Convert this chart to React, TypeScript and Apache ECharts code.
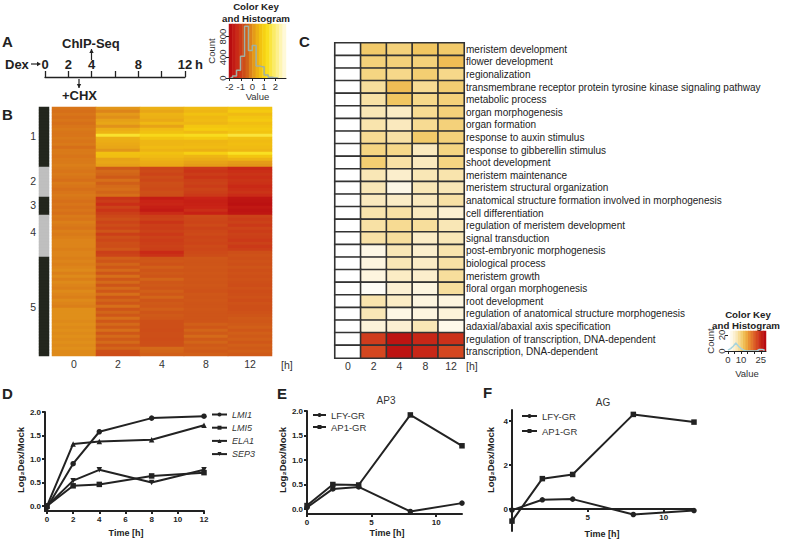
import React, { useEffect, useRef } from "react";
import * as echarts from "echarts";

const FONT = "Liberation Sans, Arial, sans-serif";
const DARK = "#222";

// Panel A
const timelineTicks = [0, 2, 4, 8, 12];

// Colour keys
const scaleB = ["#b80d10", "#c92316", "#cb3f18", "#cf5a18", "#e08f1a", "#ecb015", "#f5cc0f", "#f9e022", "#fbea60", "#fdf29c", "#fff9d8"];
const scaleC = ["#ffffff", "#fdf6e2", "#fae9bd", "#f6d98c", "#f1c55e", "#eca83f", "#e68530", "#dd6327", "#d2421f", "#c62516", "#b80b10"];
const sidebarColors = ["#23261d", "#bfbfbf"];
const keyBValues = [-2, -1.7, -1.4, -1.1, -0.8, -0.5, -0.2, 0.1, 0.4, 0.7, 1, 1.3, 1.6, 1.9, 2.2, 2.5, 2.8];
const histBX = [-1.9, -1.55, -1.2, -0.85, -0.5, -0.17, 0.16, 0.5, 0.85, 1.2, 1.55, 1.9, 2.25];
const histBY = [5, 40, 150, 420, 1000, 530, 630, 230, 220, 60, 15, 5, 0];
const keyCValues = [0, 2, 4, 6, 8, 10, 12, 14, 16, 18, 20, 22, 24, 26, 28];
const histCX = [0, 2, 4, 6, 8, 10, 12, 14, 22, 24, 26, 28];
const histCY = [1, 3, 6, 10, 6, 3, 1, 0, 0, 2, 2, 1];

// Panel B
const timeCats = ["0", "2", "4", "8", "12"];
const clusterSizes = [20, 10, 6, 14, 33];
const clusterLabels: Record<number, string> = { 9: "1", 24: "2", 32: "3", 41: "4", 66: "5" };
const matrixB = [
  [-0.25, 0.1, 0.5, 0.7, 0.85],
  [-0.3, -0.1, 0.35, 0.6, 0.95],
  [-0.25, 0.15, 0.55, 0.8, 0.7],
  [-0.3, 0.0, 0.5, 0.65, 0.85],
  [-0.25, 0.25, 0.4, 0.7, 0.95],
  [-0.3, 0.35, 0.65, 0.6, 0.75],
  [-0.25, 0.05, 0.3, 0.9, 0.85],
  [-0.2, 0.45, 0.7, 1.0, 0.95],
  [-0.25, 0.55, 0.8, 0.7, 0.85],
  [-0.25, 1.6, 1.3, 1.4, 1.7],
  [-0.2, 0.5, 0.85, 0.95, 0.8],
  [-0.25, 0.45, 0.6, 0.6, 0.7],
  [-0.2, 0.4, 0.6, 0.65, 0.75],
  [-0.3, 0.35, 0.7, 0.7, 0.7],
  [-0.2, 0.1, 0.55, 0.5, 0.6],
  [-0.2, 0.8, 0.8, 1.1, 1.5],
  [-0.25, 0.75, 0.7, 0.6, 0.9],
  [-0.2, 0.3, 0.55, 0.45, 0.55],
  [-0.2, 0.35, 0.45, 0.3, 0.2],
  [-0.15, 0.25, 0.4, 0.2, 0.1],
  [-0.2, -0.5, -0.85, -1.1, -1.4],
  [-0.25, -0.35, -0.8, -1.2, -1.3],
  [-0.2, -0.4, -0.9, -1.05, -1.2],
  [-0.25, -0.5, -0.75, -1.2, -1.3],
  [-0.3, -0.3, -0.85, -1.0, -1.2],
  [-0.2, -0.45, -0.7, -0.95, -1.25],
  [-0.25, -0.35, -0.75, -1.05, -1.4],
  [-0.3, -0.3, -0.8, -0.9, -1.3],
  [-0.25, -0.4, -0.7, -1.0, -1.2],
  [-0.2, -0.3, -0.75, -1.1, -1.35],
  [-0.25, -1.2, -1.65, -1.5, -1.8],
  [-0.3, -1.05, -1.5, -1.6, -1.85],
  [-0.25, -1.3, -1.45, -1.55, -1.9],
  [-0.3, -0.95, -1.6, -1.5, -1.75],
  [-0.25, -1.2, -1.7, -1.3, -1.85],
  [-0.3, -1.0, -1.35, -1.55, -1.8],
  [-0.2, -0.85, -1.0, -0.8, -0.95],
  [-0.25, -0.7, -0.95, -0.85, -1.05],
  [-0.15, -0.9, -1.2, -0.9, -0.95],
  [-0.2, -0.75, -1.0, -0.8, -1.1],
  [-0.25, -0.9, -1.05, -0.95, -0.9],
  [-0.15, -0.6, -0.95, -0.85, -1.05],
  [-0.2, -1.0, -1.1, -0.8, -0.95],
  [-0.15, -0.7, -0.95, -0.9, -1.0],
  [-0.1, -0.85, -1.05, -0.85, -1.1],
  [-0.1, -0.7, -1.0, -0.9, -0.95],
  [-0.1, -0.75, -0.95, -0.8, -1.1],
  [-0.15, -0.55, -1.0, -0.85, -1.0],
  [-0.1, -1.0, -1.4, -0.8, -0.7],
  [-0.1, -0.9, -1.25, -0.75, -0.65],
  [-0.15, -0.45, -0.6, -0.55, -0.7],
  [-0.1, -0.6, -0.55, -0.6, -0.65],
  [-0.15, -0.4, -0.65, -0.6, -0.7],
  [-0.1, -0.55, -0.45, -0.55, -0.6],
  [-0.05, -0.35, -0.6, -0.6, -0.7],
  [-0.15, -0.6, -0.5, -0.55, -0.65],
  [-0.05, -0.3, -0.6, -0.6, -0.7],
  [-0.15, -0.55, -0.4, -0.55, -0.65],
  [-0.05, -0.35, -0.55, -0.6, -0.7],
  [-0.1, -0.6, -0.5, -0.55, -0.75],
  [-0.15, -0.35, -0.6, -0.6, -0.65],
  [-0.05, -0.55, -0.45, -0.65, -0.75],
  [-0.1, -0.3, -0.55, -0.55, -0.7],
  [-0.15, -0.6, -0.4, -0.6, -0.65],
  [-0.05, -0.4, -0.6, -0.55, -0.75],
  [-0.1, -0.55, -0.5, -0.6, -0.65],
  [-0.15, -0.3, -0.55, -0.6, -0.7],
  [0.0, -0.6, -0.45, -0.55, -0.7],
  [0.0, -0.4, -0.6, -0.6, -0.65],
  [0.0, -0.55, -0.5, -0.6, -0.6],
  [0.0, -0.3, -0.55, -0.6, -0.5],
  [-0.05, -0.55, -0.7, -0.6, -0.55],
  [0.0, -0.35, -0.7, -0.45, -0.5],
  [-0.05, -0.5, -0.7, -0.55, -0.45],
  [0.0, -0.3, -0.75, -0.4, -0.55],
  [-0.05, -0.55, -0.7, -0.5, -0.45],
  [0.0, -0.35, -0.7, -0.35, -0.5],
  [-0.05, -0.5, -0.75, -0.5, -0.45],
  [0.0, -0.35, -0.7, -0.4, -0.55],
  [-0.05, -0.55, -0.7, -0.5, -0.45],
  [0.0, -0.4, -0.35, -0.45, -0.5],
  [-0.05, -0.7, -0.4, -0.5, -0.45],
  [-0.05, -0.75, -0.45, -0.45, -0.5],
];

// Panel C
const goTerms = [
  "meristem development",
  "flower development",
  "regionalization",
  "transmembrane receptor protein tyrosine kinase signaling pathway",
  "metabolic process",
  "organ morphogenesis",
  "organ formation",
  "response to auxin stimulus",
  "response to gibberellin stimulus",
  "shoot development",
  "meristem maintenance",
  "meristem structural organization",
  "anatomical structure formation involved in morphogenesis",
  "cell differentiation",
  "regulation of meristem development",
  "signal transduction",
  "post-embryonic morphogenesis",
  "biological process",
  "meristem growth",
  "floral organ morphogenesis",
  "root development",
  "regulation of anatomical structure morphogenesis",
  "adaxial/abaxial axis specification",
  "regulation of transcription, DNA-dependent",
  "transcription, DNA-dependent",
];
const matrixC = [
  [0, 10.5, 9.5, 11, 10.5],
  [0, 9.5, 9.5, 9.5, 12],
  [0, 9, 8.5, 10, 8.5],
  [0, 7.5, 12, 8, 10],
  [0, 7, 11, 8.5, 9.5],
  [0, 6, 5, 8, 9.5],
  [0, 6.5, 5.5, 8, 9.5],
  [0, 8, 7, 10.5, 9.5],
  [0, 9, 8.5, 5.5, 9],
  [0, 10, 7, 5.5, 9],
  [0, 6, 4.5, 6, 6.5],
  [0, 6, 2.5, 6, 6],
  [0, 5.5, 5, 5.5, 7],
  [0, 6.5, 7, 5.5, 4],
  [0, 7, 8, 7.5, 6],
  [0, 7, 7.5, 5, 6],
  [0, 2.5, 6, 4.5, 6.5],
  [0, 3, 6, 5, 7],
  [0, 3, 5, 4.5, 7.5],
  [0, 1, 4, 3, 7.5],
  [0, 6.5, 5, 3, 3],
  [0, 6, 2.5, 3, 3.5],
  [0, 3.5, 4, 6, 2],
  [0, 23, 27, 25, 24],
  [0, 22, 27, 25, 22],
];

// Panels D, E, F
const hours = [0, 2, 4, 8, 12];
const lmi1 = [-0.03, 0.9, 1.58, 1.87, 1.91];
const lmi5 = [0, 0.43, 0.46, 0.64, 0.71];
const ela1 = [0, 1.32, 1.37, 1.41, 1.72];
const sep3 = [0, 0.54, 0.77, 0.5, 0.77];
const ap3Lfy = [0.03, 0.41, 0.45, -0.05, 0.12];
const ap3Ap1 = [0.07, 0.5, 0.49, 1.92, 1.29];
const agLfy = [-0.05, 0.42, 0.45, -0.25, -0.07];
const agAp1 = [-0.55, 1.38, 1.57, 4.3, 3.95];

const zip = (ys: number[]) => ys.map((y, i) => [hours[i], y]);

function buildOption() {
  const grid: any[] = [];
  const xAxis: any[] = [];
  const yAxis: any[] = [];
  const series: any[] = [];
  const visualMap: any[] = [];
  const legend: any[] = [];
  const graphic: any[] = [];

  const addGrid = (left: number, top: number, width: number, height: number) => {
    grid.push({ left, top, width, height, containLabel: false });
    return grid.length - 1;
  };

  const hidden = (g: number, type: string, extra: any = {}) => ({ gridIndex: g, type, show: false, ...extra });

  const text = (t: string, x: number, y: number, font: string, o: any = {}) =>
    graphic.push({
      type: "text",
      x,
      y,
      rotation: o.rotation ?? 0,
      silent: true,
      style: {
        text: t,
        font: `${font} ${FONT}`,
        fill: o.fill ?? DARK,
        textAlign: o.align ?? "left",
        textVerticalAlign: "middle",
      },
    });

  const arrow = (x: number, y1: number, y2: number) => {
    graphic.push({ type: "line", shape: { x1: x, y1, x2: x, y2 }, style: { stroke: DARK, lineWidth: 1.2 } });
    const d = y2 > y1 ? -4 : 4;
    graphic.push({
      type: "polygon",
      shape: { points: [[x, y2], [x - 2.2, y2 + d], [x + 2.2, y2 + d]] },
      style: { fill: DARK },
    });
  };

  // letters
  text("A", 2, 41, "bold 15px");
  text("B", 2, 114, "bold 15px");
  text("C", 299, 41, "bold 15px");
  text("D", 2, 393, "bold 15px");
  text("E", 277, 393, "bold 15px");
  text("F", 483, 392, "bold 15px");

  // ---- Panel A timeline
  {
    const g = addGrid(45, 76, 140, 1);
    const xi = xAxis.length;
    xAxis.push({
      gridIndex: g,
      type: "value",
      min: 0,
      max: 12,
      interval: 2,
      axisLine: { onZero: false, lineStyle: { color: DARK, width: 1.3 } },
      splitLine: { show: false },
      axisTick: { inside: true, length: 6, lineStyle: { color: DARK, width: 1.3 } },
      axisLabel: {
        inside: true,
        margin: 6,
        customValues: timelineTicks,
        color: DARK,
        fontSize: 13,
        fontWeight: "bold",
        fontFamily: FONT,
        hideOverlap: false,
      },
    });
    const yi = yAxis.length;
    yAxis.push(hidden(g, "value", { min: 0, max: 1 }));
    series.push({ type: "line", xAxisIndex: xi, yAxisIndex: yi, data: [], silent: true });
    text("Dex", 5, 64, "bold 13px");
    graphic.push({ type: "line", shape: { x1: 31, y1: 64, x2: 38, y2: 64 }, style: { stroke: DARK, lineWidth: 1.2 } });
    graphic.push({ type: "polygon", shape: { points: [[41, 64], [37, 61.8], [37, 66.2]] }, style: { fill: DARK } });
    text("h", 195, 64, "bold 13px");
    text("ChIP-Seq", 62, 43, "bold 13px");
    text("+CHX", 62, 95, "bold 13px");
    arrow(91.5, 60, 49);
    arrow(79, 79, 88);
  }

  // ---- Key helper
  const addKey = (
    left: number,
    top: number,
    width: number,
    height: number,
    xMin: number,
    xMax: number,
    yMax: number,
    xTicks: number[],
    xLabels: number[],
    yTicks: number[],
    values: number[],
    scale: string[],
    vMin: number,
    vMax: number,
    hx: number[],
    hy: number[],
    step: string | false,
    histColor: string,
    valueGap: number
  ) => {
    const g = addGrid(left, top, width, height);
    // colour band
    const xc = xAxis.length;
    xAxis.push(hidden(g, "category", { data: values.map(String), position: "top" }));
    const yc = yAxis.length;
    yAxis.push(hidden(g, "category", { data: ["key"], position: "right" }));
    visualMap.push({
      show: false,
      seriesIndex: series.length,
      min: vMin,
      max: vMax,
      dimension: 2,
      inRange: { color: scale },
    });
    series.push({
      type: "heatmap",
      xAxisIndex: xc,
      yAxisIndex: yc,
      data: values.map((v, i) => [i, 0, v]),
      silent: true,
      z: 1,
    });
    // histogram
    const xv = xAxis.length;
    const axisLine = { onZero: false, lineStyle: { color: DARK, width: 1 } };
    xAxis.push({
      gridIndex: g,
      type: "value",
      min: xMin,
      max: xMax,
      axisLine,
      splitLine: { show: false },
      axisTick: { length: 3, customValues: xTicks, lineStyle: { color: DARK } },
      axisLabel: {
        customValues: xLabels,
        margin: 3,
        color: "#333",
        fontSize: 9.5,
        fontFamily: FONT,
        hideOverlap: false,
      },
      name: "Value",
      nameLocation: "middle",
      nameGap: valueGap,
      nameTextStyle: { color: "#333", fontSize: 9.5, fontFamily: FONT },
      z: 5,
    });
    const yv = yAxis.length;
    yAxis.push({
      gridIndex: g,
      type: "value",
      min: 0,
      max: yMax,
      axisLine: { show: false },
      splitLine: { show: false },
      axisTick: { show: true, length: 3, customValues: yTicks, lineStyle: { color: DARK } },
      axisLabel: {
        customValues: yTicks,
        rotate: 90,
        margin: 2,
        color: "#333",
        fontSize: 9.5,
        fontFamily: FONT,
        hideOverlap: false,
      },
      name: "Count",
      nameLocation: "middle",
      nameGap: 13,
      nameRotate: 90,
      nameTextStyle: { color: "#333", fontSize: 9.5, fontFamily: FONT },
      z: 5,
    });
    series.push({
      type: "line",
      xAxisIndex: xv,
      yAxisIndex: yv,
      data: hx.map((x, i) => [x, hy[i]]),
      step,
      showSymbol: false,
      silent: true,
      lineStyle: { color: histColor, width: 1.5 },
      z: 3,
    });
  };

  // top key
  addKey(229, 24, 57, 54, -2.03, 2.93, 1045, [-2, -1, 0, 1, 2], [-2, -1, 0, 1, 2], [0, 400, 800],
    keyBValues, scaleB, -2, 2.8, histBX, histBY, "middle", "#9fb0a4", 13);
  text("Color Key", 256, 6, "bold 9.7px", { align: "center" });
  text("and Histogram", 256, 18, "bold 9.7px", { align: "center" });

  // bottom key
  addKey(728, 331, 38, 20, 0, 29, 25, [0, 5, 10, 15, 20, 25], [0, 10, 25], [0, 20],
    keyCValues, scaleC, 0, 28, histCX, histCY, false, "#a8d4dc", 17);
  text("Color Key", 748, 314, "bold 9.7px", { align: "center" });
  text("and Histogram", 746, 325, "bold 9.7px", { align: "center" });

  // ---- Panel B sidebar
  {
    const rows = matrixB.map((_, i) => clusterLabels[i] ?? "");
    const g = addGrid(39, 107, 10, 249);
    const xi = xAxis.length;
    xAxis.push(hidden(g, "category", { data: ["c"] }));
    const yi = yAxis.length;
    yAxis.push({
      gridIndex: g,
      type: "category",
      inverse: true,
      data: rows.map((r, i) => ({ value: `${i}:${r}` })),
      axisLine: { show: false },
      axisTick: { show: false },
      axisLabel: {
        interval: 0,
        margin: 3,
        fontSize: 10.5,
        color: "#333",
        fontFamily: FONT,
        formatter: (v: string) => v.split(":")[1],
      },
    });
    const strip: number[][] = [];
    let row = 0;
    clusterSizes.forEach((n, c) => {
      for (let i = 0; i < n; i++) {
        strip.push([0, row, c % 2]);
        row++;
      }
    });
    visualMap.push({ show: false, seriesIndex: series.length, min: 0, max: 1, dimension: 2, inRange: { color: sidebarColors } });
    series.push({ type: "heatmap", xAxisIndex: xi, yAxisIndex: yi, data: strip, silent: true });
  }

  // ---- Panel B heatmap
  {
    const g = addGrid(52, 107, 220, 249);
    const xi = xAxis.length;
    xAxis.push({
      gridIndex: g,
      type: "category",
      data: timeCats,
      axisLine: { show: false },
      axisTick: { show: false },
      axisLabel: { margin: 2, fontSize: 10.5, color: "#333", fontFamily: FONT, interval: 0 },
    });
    const yi = yAxis.length;
    yAxis.push(hidden(g, "category", { inverse: true, data: matrixB.map((_, i) => String(i)) }));
    visualMap.push({ show: false, seriesIndex: series.length, min: -2, max: 3, dimension: 2, inRange: { color: scaleB } });
    const data: number[][] = [];
    matrixB.forEach((r, y) => r.forEach((v, x) => data.push([x, y, v])));
    series.push({ type: "heatmap", xAxisIndex: xi, yAxisIndex: yi, data, silent: true });
    text("[h]", 281, 365, "10.5px", { fill: "#333" });
  }

  // ---- Panel C heatmap
  {
    const g = addGrid(335, 43, 129, 315);
    const xi = xAxis.length;
    xAxis.push({
      gridIndex: g,
      type: "category",
      data: timeCats,
      axisLine: { show: false },
      axisTick: { show: false },
      axisLabel: { margin: 2, fontSize: 10.5, color: "#333", fontFamily: FONT, interval: 0 },
    });
    const yi = yAxis.length;
    yAxis.push({
      gridIndex: g,
      type: "category",
      inverse: true,
      position: "right",
      data: goTerms,
      axisLine: { show: false },
      axisTick: { show: false },
      axisLabel: { interval: 0, margin: 2, fontSize: 10, color: "#222", fontFamily: FONT },
    });
    visualMap.push({ show: false, seriesIndex: series.length, min: 0, max: 28, dimension: 2, inRange: { color: scaleC } });
    const data: number[][] = [];
    matrixC.forEach((r, y) => r.forEach((v, x) => data.push([x, y, v])));
    series.push({
      type: "heatmap",
      xAxisIndex: xi,
      yAxisIndex: yi,
      data,
      silent: true,
      itemStyle: { borderColor: "#333", borderWidth: 1.6 },
    });
    text("[h]", 466, 366, "10.5px", { fill: "#333" });
  }

  // ---- Line panels
  const addLines = (
    left: number,
    top: number,
    width: number,
    height: number,
    xr: [number, number],
    yr: [number, number],
    xTicks: number[],
    yTicks: number[],
    yFmt: (v: number) => string,
    xOffset: number,
    lines: { name: string; data: number[]; symbol: string; rotate?: number }[]
  ) => {
    const g = addGrid(left, top, width, height);
    const xi = xAxis.length;
    const lineStyle = { color: DARK, width: 2 };
    xAxis.push({
      gridIndex: g,
      type: "value",
      min: xr[0],
      max: xr[1],
      offset: xOffset,
      axisLine: { onZero: false, lineStyle },
      splitLine: { show: false },
      axisTick: { length: 3, customValues: xTicks, lineStyle },
      axisLabel: {
        customValues: xTicks,
        margin: 4,
        color: DARK,
        fontSize: 8,
        fontWeight: "bold",
        fontFamily: FONT,
        hideOverlap: false,
      },
    });
    const yi = yAxis.length;
    yAxis.push({
      gridIndex: g,
      type: "value",
      min: yr[0],
      max: yr[1],
      axisLine: { show: true, onZero: false, lineStyle },
      splitLine: { show: false },
      axisTick: { show: true, length: 3, customValues: yTicks, lineStyle },
      axisLabel: {
        customValues: yTicks,
        formatter: yFmt,
        margin: 4,
        color: DARK,
        fontSize: 8,
        fontWeight: "bold",
        fontFamily: FONT,
        hideOverlap: false,
      },
    });
    lines.forEach((l) =>
      series.push({
        type: "line",
        name: l.name,
        xAxisIndex: xi,
        yAxisIndex: yi,
        data: zip(l.data),
        symbol: l.symbol,
        symbolRotate: l.rotate ?? 0,
        symbolSize: 5.5,
        showSymbol: true,
        clip: false,
        silent: true,
        lineStyle: { color: DARK, width: 2 },
        itemStyle: { color: DARK },
      })
    );
  };

  addLines(45, 412, 159, 99, [-0.15, 12], [-0.106, 2], [0, 2, 4, 6, 8, 10, 12], [0, 0.5, 1, 1.5, 2], (v) => v.toFixed(1), 0, [
    { name: "LMI1", data: lmi1, symbol: "circle" },
    { name: "LMI5", data: lmi5, symbol: "rect" },
    { name: "ELA1", data: ela1, symbol: "triangle" },
    { name: "SEP3", data: sep3, symbol: "triangle", rotate: 180 },
  ]);
  addLines(307, 411, 155, 103, [0, 12], [-0.102, 2], [0, 5, 10], [0, 0.5, 1, 1.5, 2], (v) => v.toFixed(1), 0, [
    { name: "LFY-GR", data: ap3Lfy, symbol: "circle" },
    { name: "AP1-GR", data: ap3Ap1, symbol: "rect" },
  ]);
  addLines(512, 410, 182, 121, [0, 12], [-1, 4.5], [5, 10], [0, 2, 4], (v) => String(v), -22, [
    { name: "LFY-GR ", data: agLfy, symbol: "circle" },
    { name: "AP1-GR ", data: agAp1, symbol: "rect" },
  ]);

  const legendText = { color: "#333", fontSize: 9.5, fontFamily: FONT };
  legend.push({
    left: 211,
    top: 410,
    padding: 0,
    orient: "vertical",
    itemWidth: 15,
    itemHeight: 5,
    itemGap: 4.2,
    data: ["LMI1", "LMI5", "ELA1", "SEP3"],
    textStyle: { ...legendText, fontSize: 9, fontStyle: "italic" },
    selectedMode: false,
  });
  legend.push({
    left: 312,
    top: 410,
    padding: 0,
    orient: "vertical",
    itemWidth: 13,
    itemHeight: 5,
    itemGap: 2,
    data: ["LFY-GR", "AP1-GR"],
    textStyle: legendText,
    selectedMode: false,
  });
  legend.push({
    left: 521,
    top: 411,
    padding: 0,
    orient: "vertical",
    itemWidth: 15,
    itemHeight: 5,
    itemGap: 5,
    data: ["LFY-GR ", "AP1-GR "],
    textStyle: legendText,
    selectedMode: false,
  });

  text("AP3", 386, 400, "10px", { align: "center", fill: "#333" });
  text("AG", 603, 402, "10px", { align: "center", fill: "#333" });
  text("Time [h]", 126, 533, "bold 9px", { align: "center" });
  text("Time [h]", 387, 533, "bold 9px", { align: "center" });
  text("Time [h]", 602, 534, "bold 9px", { align: "center" });
  text("Log₂Dex/Mock", 20, 460, "bold 9.5px", { align: "center", rotation: Math.PI / 2 });
  text("Log₂Dex/Mock", 282, 460, "bold 9.5px", { align: "center", rotation: Math.PI / 2 });
  text("Log₂Dex/Mock", 490, 460, "bold 9.5px", { align: "center", rotation: Math.PI / 2 });

  return {
    animation: false,
    backgroundColor: "#fff",
    textStyle: { fontFamily: FONT },
    tooltip: { show: false },
    grid,
    xAxis,
    yAxis,
    series,
    visualMap,
    legend,
    graphic: { elements: graphic },
  };
}

export default function App() {
  const ref = useRef<HTMLDivElement>(null);
  useEffect(() => {
    document.body.style.margin = "0";
    const chart = echarts.init(ref.current!, undefined, { renderer: "svg" });
    chart.setOption(buildOption() as any);
    return () => chart.dispose();
  }, []);
  return <div ref={ref} style={{ width: 793, height: 541 }} />;
}
